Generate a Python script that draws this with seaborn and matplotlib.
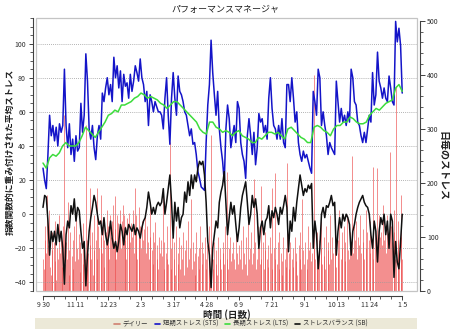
import numpy as np
import pandas as pd
import matplotlib
matplotlib.use("Agg")
import matplotlib.pyplot as plt
from matplotlib.ticker import MultipleLocator, FixedLocator, FixedFormatter
from matplotlib.patches import Rectangle
from matplotlib.lines import Line2D
import matplotlib.dates as mdates
import seaborn as sns

# ---- data -------------------------------------------------------------
start = pd.Timestamp("2012-09-30")
end = pd.Timestamp("2014-01-05")

tick_dates = ["2012-09-30", "2012-11-11", "2012-12-23", "2013-02-03", "2013-03-17",
              "2013-04-28", "2013-06-09", "2013-07-21", "2013-09-01", "2013-10-13",
              "2013-11-24", "2014-01-05"]
tick_labels = ["9 30", "11 11", "12 23", "2 3", "3 17", "4 28", "6 9", "7 21",
               "9 1", "10 13", "11 24", "1 5"]

# daily stress (right axis), one value per day
daily_stress = [
    60, 40, 95, 120, 70, 178, 0, 85, 150, 45, 30, 110, 75, 0,
    90, 55, 130, 20, 80, 60, 140, 0, 70, 100, 45, 85, 120, 326,
    50, 0, 90, 60, 165, 30, 75, 110, 0, 65, 95, 40, 120, 55,
    141, 0, 80, 60, 105, 35, 90, 70, 0, 125, 50, 85, 60, 307,
    40, 95, 70, 0, 190, 85, 60, 110, 30, 75, 140, 0, 95, 190,
    60, 120, 80, 0, 100, 178, 70, 130, 45, 95, 0, 110, 150, 85,
    120, 60, 140, 100, 0, 130, 159, 90, 175, 115, 60, 140, 0, 125,
    105, 150, 80, 130, 0, 159, 140, 95, 120, 60, 135, 0, 110, 145,
    90, 125, 0, 100, 150, 70, 190, 110, 140, 60, 0, 155, 100, 120,
    80, 130, 0, 95, 115, 140, 70, 0, 120, 90, 60, 165, 100, 0,
    75, 110, 50, 90, 128, 0, 60, 85, 40, 100, 70, 0, 95, 65,
    183, 40, 90, 0, 70, 120, 60, 50, 0, 276, 80, 40, 100, 0,
    60, 90, 30, 120, 0, 70, 50, 100, 40, 0, 85, 60, 110, 30,
    0, 75, 95, 45, 130, 0, 60, 80, 170, 40, 0, 90, 55, 70,
    30, 110, 0, 65, 80, 40, 120, 0, 90, 50, 70, 0, 100, 60,
    40, 85, 0, 120, 70, 30, 289, 0, 60, 40, 90, 0, 50, 75,
    30, 100, 0, 60, 80, 40, 0, 70, 90, 50, 120, 0, 221, 60,
    40, 80, 0, 100, 55, 70, 0, 90, 60, 40, 110, 0, 70, 50,
    85, 0, 60, 95, 40, 120, 0, 70, 50, 100, 30, 0, 150, 60,
    80, 0, 110, 50, 70, 207, 0, 90, 40, 60, 120, 0, 80, 50,
    195, 60, 0, 90, 40, 75, 110, 0, 60, 85, 45, 0, 100, 70,
    40, 190, 0, 80, 60, 218, 0, 50, 90, 40, 110, 0, 70, 55,
    30, 100, 0, 60, 80, 45, 236, 0, 70, 40, 90, 0, 60, 80,
    45, 0, 100, 55, 70, 30, 0, 85, 60, 110, 40, 170, 0, 75,
    50, 90, 0, 60, 40, 120, 75, 0, 90, 55, 70, 0, 400, 80,
    60, 0, 110, 70, 45, 95, 0, 80, 130, 50, 0, 100, 65, 40,
    120, 0, 75, 90, 50, 140, 0, 60, 100, 70, 0, 85, 130, 45,
    0, 95, 70, 150, 0, 60, 110, 80, 0, 120, 55, 90, 0, 140,
    75, 60, 0, 110, 85, 249, 0, 70, 120, 95, 0, 130, 60, 100,
    0, 85, 140, 70, 0, 115, 90, 60, 0, 150, 80, 110, 0, 95,
    70, 130, 0, 85, 230, 60, 0, 120, 90, 227, 0, 75, 140, 100,
    0, 110, 85, 160, 0, 95, 120, 70, 0, 140, 105, 80, 258, 0,
    120, 90, 0, 150, 110, 60, 380, 0, 95, 130, 70, 0, 100, 178,
    60,
]

# short term stress (STS), evenly sampled over the period
sts = [
    27, 20, 15, 35, 58, 46, 52, 43, 51, 40, 53, 48, 52, 85, 52, 39, 53, 35, 44, 31,
    46, 37, 39, 65, 48, 58, 94, 78, 50, 44, 52, 39, 32, 46, 52, 44, 71, 66, 74, 80,
    70, 76, 66, 92, 80, 87, 74, 84, 66, 82, 75, 77, 68, 82, 72, 78, 87, 83, 78, 91,
    80, 76, 66, 72, 52, 70, 66, 60, 66, 63, 60,
    60, 58, 50, 68, 80, 58, 41, 68, 83, 68, 58, 81, 72, 70, 66, 60, 58, 52, 46, 50,
    41, 42, 35, 25, 21, 16, 15, 14, 42, 64, 76, 102, 83, 70, 58, 72, 50, 39, 31, 19,
    50, 64, 56, 39, 46, 52, 42, 66, 62, 42, 35, 31, 21, 46, 56, 46, 35, 48, 29, 39,
    59, 54, 56, 48, 52, 44, 68, 80, 62, 52, 50, 44, 52, 44, 56, 42, 39, 76,
    76, 66, 80, 68, 54, 60, 42, 35, 31, 37, 33, 35, 31, 27, 24, 72, 66, 58, 85, 80,
    52, 60, 52, 46, 35, 42, 39, 37, 35, 78, 66, 54, 62, 54, 58, 52, 60, 54, 85, 80,
    66, 64, 54, 52, 46, 42, 48, 42, 50, 58, 54, 83, 64, 70, 95, 78, 74, 68, 74, 68,
    66, 81, 74, 66, 64, 113, 101, 109, 99, 71,
]

# long term stress (LTS), evenly sampled over the period
lts = [
    30, 27, 33, 35, 34, 36, 40, 42, 40, 40, 40, 42, 46, 51, 49, 47, 45, 48, 51, 54,
    58, 59, 61, 60, 64, 64, 65, 66, 68, 69, 71, 70, 68, 69, 68, 67, 65,
    64, 62, 64, 66, 66, 64, 62, 60, 58, 56, 54, 50, 48, 47, 54, 54, 51, 50, 48, 49,
    48, 46, 48, 49, 46, 45, 44, 42, 42, 45, 44, 46, 48, 48, 47, 48, 46, 44,
    50, 51, 49, 47, 45, 44, 42, 42, 51, 52, 51, 49, 48, 46, 50, 52, 52, 54, 54, 57,
    56, 54, 53, 53, 54, 58, 60, 62, 61, 63, 65, 66, 67, 74, 76, 72,
]

# stress balance (SB), evenly sampled over the period
sb = [
    4, 11, 10, -4, -24, -10, -16, -10, -18, -6, -16, -10, -20, -41, -12, -4, -8, 5, 0, 9,
    -4, 4, 2, -10, -20, -16, -42, -24, -10, -2, 4, 11, 7, 0, -6, -4, -12, -2, -12, -18,
    -12, -4, -14, -20, -16, -22, -16, -6, -10, -18, -8, -12, -6, -8, -10, -6, -12, -8, -10, -14,
    -8, -4, -2, 4, 13, 7, 0, 4, 0, 5, 7,
    5, 7, 15, 0, 7, 15, 23, 7, -14, 7, -4, 4, -8, -2, 0, 13, 7, 19, 11, 23,
    15, 23, 19, 27, 31, 29, 31, 23, 7, -16, -24, -43, -20, -12, -4, -8, 7, 13, 17, 25,
    7, -12, -2, 7, 0, 5, -6, -16, -8, 4, 11, 15, 19, 7, -6, 0, 11, 4, 9, 0,
    -20, -8, -4, -12, -4, -2, 5, -8, 2, -2, 4, 0, -6, 4, 0, 5, 11, 4,
    -22, -4, -10, 4, -4, 7, 15, 23, 17, 11, 15, 13, 17, 15, 18, -20, -4, -12, -32, -20,
    0, 4, -2, 5, 4, 7, 11, 5, 7, -24, -10, -2, -8, 0, -4, 0, -2, -6, -24, -10,
    -6, 0, 4, 7, 9, 11, 7, 5, 4, 0, -12, -20, -4, -10, -28, -10, -2, -6, 0, -12,
    -4, -20, 0, -4, -37, -16, -28, -32, -16, 0,
]

# ---- style ------------------------------------------------------------
sns.set_style("white")
plt.rcParams["font.family"] = "Noto Sans CJK JP"

c_daily = "#ec4646"
c_sts = "#1414c8"
c_lts = "#3cdc3c"
c_sb = "#101010"

W, H = 450, 329
fig = plt.figure(figsize=(W / 100, H / 100), dpi=100, facecolor="white")
ax = fig.add_axes([36 / W, 1 - 291 / H, (417 - 36) / W, (291 - 18) / H])
axd = ax.twinx()
axd.set_zorder(0)
ax.set_zorder(1)
ax.patch.set_visible(False)
axd.patch.set_visible(True)
axd.patch.set_facecolor("white")

daily_dates = pd.date_range(start, periods=len(daily_stress), freq="D")
sts_dates = pd.date_range(start, end, periods=len(sts))
lts_dates = pd.date_range(start, end, periods=len(lts))
sb_dates = pd.date_range(start, end, periods=len(sb))

# daily bars on the right axis
axd.vlines(daily_dates, 0, daily_stress, color=c_daily, lw=0.7, alpha=0.62)

# weighted averages on the left axis
sns.lineplot(x=sts_dates, y=sts, ax=ax, color=c_sts, lw=1.1, legend=False)
sns.lineplot(x=lts_dates, y=lts, ax=ax, color=c_lts, lw=1.1, legend=False)
sns.lineplot(x=sb_dates, y=sb, ax=ax, color=c_sb, lw=1.1, legend=False)
ax.set_xlabel("")
ax.set_ylabel("")
axd.set_ylabel("")

ax.set_xlim(start - pd.Timedelta(days=9), start + pd.Timedelta(days=481))
ax.set_ylim(-45, 115)
axd.set_ylim(0, 505)

# axes, ticks and grid
ax.yaxis.set_major_locator(MultipleLocator(20))
ax.yaxis.set_minor_locator(MultipleLocator(5))
axd.yaxis.set_major_locator(MultipleLocator(100))
axd.yaxis.set_minor_locator(MultipleLocator(20))
major_x = mdates.date2num(pd.to_datetime(tick_dates))
ax.xaxis.set_major_locator(FixedLocator(major_x))
ax.xaxis.set_major_formatter(FixedFormatter(tick_labels))
ax.xaxis.set_minor_locator(FixedLocator(
    mdates.date2num(pd.date_range(start, end, freq="14D"))))

ax.grid(axis="y", which="major", color="#9a9a9a", ls=(0, (1, 1.5)), lw=0.6)
ax.grid(axis="x", visible=False)

for s in ("top", "right"):
    ax.spines[s].set_visible(False)
for s in ("top", "left", "bottom"):
    axd.spines[s].set_visible(False)
ax.spines["left"].set_position(("outward", 2.5))
ax.spines["bottom"].set_position(("outward", 3.5))
ax.spines["bottom"].set_bounds(major_x[0], major_x[-1])
axd.spines["right"].set_position(("outward", 2.5))
axd.spines["right"].set_bounds(0, 500)
for sp in (ax.spines["left"], ax.spines["bottom"], axd.spines["right"]):
    sp.set_color("#404040")
    sp.set_linewidth(0.8)

ax.tick_params(axis="x", which="major", pad=0.4)
ax.tick_params(axis="y", which="major", pad=1.5)
ax.tick_params(axis="both", which="major", direction="out", length=3.2, width=0.7,
               colors="#404040", labelsize=5, left=True, bottom=True)
ax.tick_params(axis="both", which="minor", direction="out", length=2, width=0.6,
               colors="#404040", left=True, bottom=True)
axd.tick_params(axis="y", which="major", direction="out", length=3.5, width=0.7,
                colors="#404040", labelsize=5, pad=1.2, right=True)
axd.tick_params(axis="y", which="minor", direction="out", length=2, width=0.6,
                colors="#404040", right=True)
for lab in ax.get_xticklabels() + ax.get_yticklabels() + axd.get_yticklabels():
    lab.set_color("#303030")

# light frame around the plotting area
ax.add_patch(Rectangle((0, 0), 1, 1, transform=ax.transAxes, fill=False,
                       edgecolor="#c4c4c4", lw=0.9, clip_on=False, zorder=5))

# texts
fig.text(225 / W, 1 - 9 / H, "パフォーマンスマネージャ", ha="center", va="center",
         fontsize=6.5, color="#202020")
fig.text(227 / W, 1 - 314.5 / H, "時間 (日数)", ha="center", va="center",
         fontsize=6.9, fontweight="bold", color="#202020")
fig.text(10 / W, 1 - 152 / H, "指数関数的に重み付けされた平均ストレス", rotation=90,
         ha="center", va="center", fontsize=6.3, fontweight="bold", color="#202020")
fig.text(443 / W, 1 - 166 / H, "日毎のストレス", rotation=-90,
         ha="center", va="center", fontsize=7.2, fontweight="bold", color="#202020")

# legend band
fig.patches.append(Rectangle((35 / W, 0), (417 - 35) / W, (329 - 318) / H,
                             transform=fig.transFigure, facecolor="#ece9d8",
                             edgecolor="none", zorder=0))
handles = [Line2D([], [], color="#d08070", lw=1.2),
           Line2D([], [], color=c_sts, lw=1.2),
           Line2D([], [], color=c_lts, lw=1.2),
           Line2D([], [], color=c_sb, lw=1.2)]
labels = ["デイリー", "短期ストレス (STS)", "長期ストレス (LTS)", "ストレスバランス (SB)"]
fig.legend(handles, labels, loc="center", bbox_to_anchor=(241 / W, 1 - 324 / H),
           ncol=4, frameon=False, fontsize=4.6, handlelength=0.9, handletextpad=0.4,
           columnspacing=1.0, borderpad=0, labelcolor="#303030")

fig.savefig("out.png", dpi=100, facecolor="white")
